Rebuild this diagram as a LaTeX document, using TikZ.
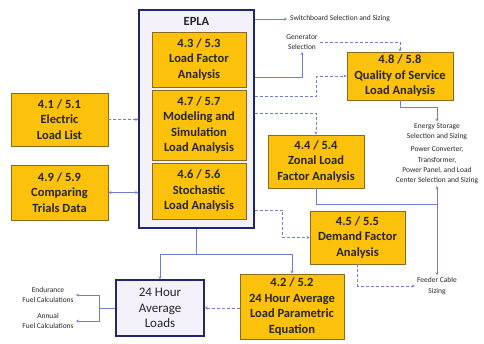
\documentclass[tikz,border=0pt]{standalone}
\usepackage{fontspec}
\setmainfont{Carlito}
\usetikzlibrary{positioning}

\definecolor{boxgold}{HTML}{FCC10A}
\definecolor{boxedge}{HTML}{8A6A20}
\definecolor{eplafill}{HTML}{F4F1FB}
\definecolor{eplaedge}{HTML}{1E2870}
\definecolor{linkblue}{HTML}{6F7FCB}

\begin{document}
\begin{tikzpicture}[
        x=1pt, y=-1pt,
        module/.style={rectangle, draw=boxedge, fill=boxgold, line width=0.8pt, align=center, inner sep=2pt,
            font=\bfseries\fontsize{12.5}{15.5}\selectfont, text=black!85},
        frame/.style={rectangle, draw=eplaedge, fill=eplafill, line width=1.3pt},
        note/.style={align=center, inner sep=2pt, font=\fontsize{7.5}{10.3}\selectfont, text=black!85},
        link/.style={->, >=stealth, draw=linkblue, thin},
        line/.style={draw=linkblue, thin},
        broken/.style={densely dashed}
    ]
        \useasboundingbox (0,0) rectangle (484,343);

        % EPLA frame
        \node[frame, minimum width=115pt, minimum height=218pt] (epla) at (196.5,119) {};
        \node[font=\bfseries\fontsize{12.5}{15.5}\selectfont, text=black!85] (epla-title) at (196.5,21) {EPLA};

        % Modules inside EPLA
        \foreach \name/\y/\h/\txt in {lf/59.5/55/{4.3 / 5.3\\Load Factor\\Analysis},
                                      ms/125/70/{4.7 / 5.7\\Modeling and\\Simulation\\Load Analysis},
                                      st/191/56/{4.6 / 5.6\\Stochastic\\Load Analysis}}
        {
            \node[module, minimum width=94pt, minimum height=\h pt] (\name) at (199,\y) {\txt};
        }

        % Input modules
        \node[module, minimum width=97pt, minimum height=53pt] (ell) at (59.5,119.5) {4.1 / 5.1\\Electric\\Load List};
        \node[module, minimum width=97pt, minimum height=55pt] (ctd) at (59.5,192.5) {4.9 / 5.9\\Comparing\\Trials Data};

        % Output modules
        \node[module, minimum width=106pt, minimum height=48pt] (qos) at (400,76) {4.8 / 5.8\\Quality of Service\\Load Analysis};
        \node[module, minimum width=96pt, minimum height=53pt] (zl) at (316,161.5) {4.4 / 5.4\\Zonal Load\\Factor Analysis};
        \node[module, minimum width=95pt, minimum height=53pt] (df) at (357.5,237.5) {4.5 / 5.5\\Demand Factor\\Analysis};
        \node[module, minimum width=104pt, minimum height=65pt] (par) at (292,306.5) {4.2 / 5.2\\24 Hour Average\\Load Parametric\\Equation};
        \node[frame, minimum width=88pt, minimum height=56pt, align=center, inner sep=2pt,
              font=\fontsize{13}{15.5}\selectfont, text=black!85] (avg) at (160,308) {24 Hour\\Average\\Loads};

        % Notes
        \node[note, anchor=west, inner sep=3pt] (sw) at (287,19) {Switchboard Selection and Sizing};
        \node[note] (gen) at (302,42) {Generator\\Selection};
        \node[note] (es) at (437,132) {Energy Storage\\Selection and Sizing};
        \node[note] (pc) at (437,165.5) {Power Converter,\\Transformer,\\Power Panel, and Load\\Center Selection and Sizing};
        \node[note] (fc) at (437,286) {Feeder Cable\\Sizing};
        \node[note] (endu) at (48,295) {Endurance\\Fuel Calculations};
        \node[note] (annu) at (48,321) {Annual\\Fuel Calculations};

        % Connections into EPLA
        \draw[link, broken] (ell.east) -- (ell.east -| epla.west);
        \draw[link, <->] (ctd.east) -- (ctd.east -| epla.west);

        % Connections out of EPLA
        \draw[link] (epla.east |- sw.west) -- (sw.west);
        \draw[link] (epla.east |- 0,77) -| (gen.south);
        \draw[link, broken] (gen.east) -| (qos.north);
        \draw[link, broken] (epla.east |- 0,96) -- ++(62,0) |- (qos.west);
        \draw[link, broken] (epla.east |- 0,113) -| (zl.north);
        \draw[link, broken] (epla.east |- 0,210) -- ++(28,0) |- (df.west);

        % Quality of service, zonal load and demand factor results
        \draw[link] (qos.south) -- ++(0,7) -| (es.north);
        \draw[line] (zl.south) |- (pc.south |- 0,204);
        \draw[link, <->] (pc.south) -- (fc.north);
        \draw[link, broken] (df.south) |- (fc.west);

        % 24 hour loads
        \draw[line] (epla.south) -- ++(0,26) coordinate (split);
        \draw[link] (split) -| (avg.north);
        \draw[link] (split) -| (par.north);
        \draw[link, broken] (par.west |- avg.east) -- (avg.east);
        \draw[line] (avg.west) -- ++(-16,0) coordinate (fuel);
        \draw[link] (fuel) |- (endu.east);
        \draw[link] (fuel) |- (annu.east);

    \end{tikzpicture}
\end{document}
